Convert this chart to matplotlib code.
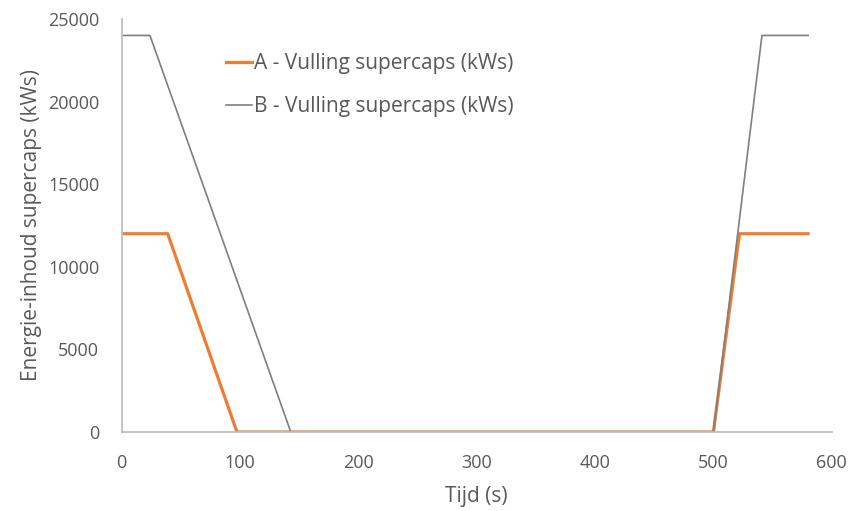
import numpy as np
import matplotlib
matplotlib.use("Agg")
from matplotlib import pyplot as plt

# Vulling supercaps, hoekpunten
tijd_a = [0, 39, 97.5, 500, 522, 580]
vulling_a = [12000, 12000, 0, 0, 12000, 12000]
tijd_b = [0, 24, 143, 500, 541, 580]
vulling_b = [24000, 24000, 0, 0, 24000, 24000]

labels = ["A - Vulling supercaps (kWs)", "B - Vulling supercaps (kWs)"]
x_ticks = [0, 100, 200, 300, 400, 500, 600]
y_ticks = [0, 5000, 10000, 15000, 20000, 25000]

plt.rcParams['font.family'] = ['Open Sans', 'DejaVu Sans']
tekstkleur = '#595959'

fig = plt.figure(figsize=(8.54, 5.11), dpi=100)
ax = fig.add_axes([0.1423, 0.1546, 0.8317, 0.8084])

ax.plot(tijd_a, vulling_a, color='#ED7D31', lw=2.3, label=labels[0], solid_joinstyle='round')
ax.plot(tijd_b, vulling_b, color='#7F7F7F', lw=1.2, label=labels[1])

ax.set_xlim(0, 600)
ax.set_ylim(0, 25000)
ax.set_xticks(x_ticks)
ax.set_yticks(y_ticks)
ax.tick_params(length=0, labelsize=13, labelcolor=tekstkleur)
ax.tick_params(axis='x', pad=16)
ax.tick_params(axis='y', pad=16)

for s in ['top', 'right']:
    ax.spines[s].set_visible(False)
for s in ['left', 'bottom']:
    ax.spines[s].set_color('#BFBFBF')
    ax.spines[s].set_linewidth(1.3)

ax.set_xlabel("Tijd (s)", fontsize=15, color=tekstkleur, labelpad=10)
ax.set_ylabel("Energie-inhoud supercaps (kWs)", fontsize=15, color=tekstkleur, labelpad=4)

leg = ax.legend(loc='upper left', bbox_to_anchor=(0.12, 0.963), frameon=False,
                fontsize=15, handlelength=1.25, handletextpad=0.1, labelspacing=1.05)
for t in leg.get_texts():
    t.set_color(tekstkleur)

fig.savefig("out.png", dpi=100)
